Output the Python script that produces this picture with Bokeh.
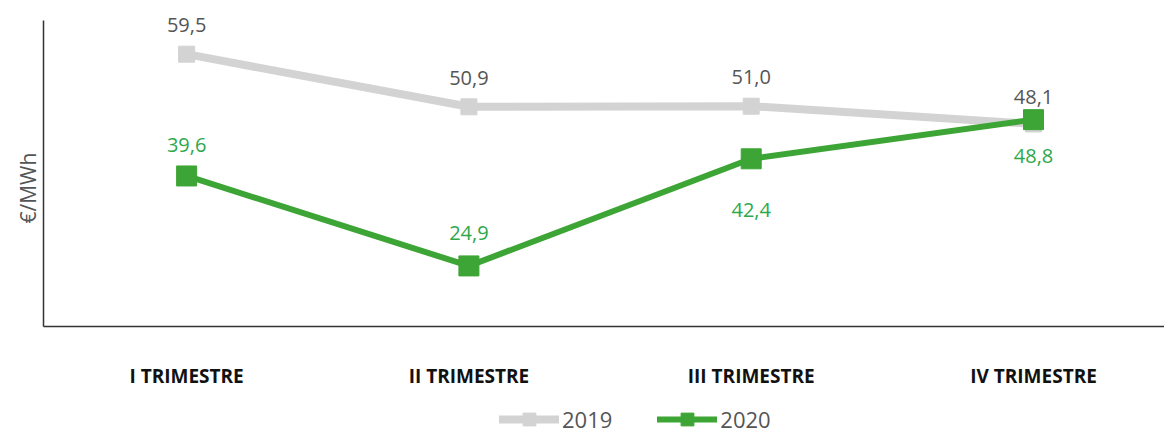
from bokeh.plotting import figure
from bokeh.layouts import column
from bokeh.models import ColumnDataSource, Range1d, FixedTicker, Legend, LegendItem, LabelSet, Title
from bokeh.core.properties import value
from bokeh.embed import file_html
from bokeh.resources import INLINE

categories = ["I TRIMESTRE", "II TRIMESTRE", "III TRIMESTRE", "IV TRIMESTRE"]
values_2019 = [59.5, 50.9, 51.0, 48.1]
values_2020 = [39.6, 24.9, 42.4, 48.8]
labels_2019 = ["59,5", "50,9", "51,0", "48,1"]
labels_2020 = ["39,6", "24,9", "42,4", "48,8"]
series_names = ["2019", "2020"]
y_title = "€/MWh"

# label placement (style): pixel offsets
offs_2019 = [29, 29, 29, 27]
offs_2020 = [31, 33, -51, -36]

GREY = "#d3d3d3"
GREEN = "#3da535"
GREY_TXT = "#555555"
GREEN_TXT = "#2ea84a"
FONT = "Open Sans"

xs = list(range(len(categories)))

p = figure(width=1164, height=403, output_backend="svg", toolbar_location=None,
           x_range=Range1d(-0.507, 3.464), y_range=Range1d(15, 68.27),
           min_border_left=43, min_border_top=0, min_border_right=0, min_border_bottom=77)
p.outline_line_color = None
p.grid.visible = False

s19 = ColumnDataSource(dict(x=xs, y=values_2019, lab=labels_2019, off=offs_2019))
s20 = ColumnDataSource(dict(x=xs, y=values_2020, lab=labels_2020, off=offs_2020))

p.line("x", "y", source=s19, line_color=GREY, line_width=8)
p.scatter("x", "y", source=s19, marker="square", size=16, fill_color=GREY, line_color=GREY)
p.line("x", "y", source=s20, line_color=GREEN, line_width=6)
p.scatter("x", "y", source=s20, marker="square", size=20, fill_color=GREEN, line_color=GREEN)

p.add_layout(LabelSet(x="x", y="y", text="lab", source=s19, y_offset="off",
                      text_align="center", text_baseline="middle",
                      text_font=value(FONT), text_font_size="20px", text_color=GREY_TXT))
p.add_layout(LabelSet(x="x", y="y", text="lab", source=s20, y_offset="off",
                      text_align="center", text_baseline="middle",
                      text_font=value(FONT), text_font_size="20px", text_color=GREEN_TXT))

xa = p.xaxis[0]
xa.ticker = FixedTicker(ticks=xs)
xa.major_label_overrides = {i: c for i, c in enumerate(categories)}
xa.major_tick_line_color = None
xa.minor_tick_line_color = None
xa.axis_line_color = "#333333"
xa.axis_line_width = 1.5
xa.major_label_standoff = 30
xa.major_label_text_font = FONT
xa.major_label_text_font_style = "bold"
xa.major_label_text_font_size = "19px"
xa.major_label_text_color = "#111111"

ya = p.yaxis[0]
ya.ticker = FixedTicker(ticks=[])
ya.bounds = (15, 65)
ya.major_tick_line_color = None
ya.minor_tick_line_color = None
ya.major_label_text_font_size = "0px"
ya.axis_line_color = "#333333"
ya.axis_line_width = 1.5

p.add_layout(Title(text=y_title, align="left", offset=103, standoff=4,
                   text_font=FONT, text_font_style="normal", text_font_size="21px",
                   text_color=GREY_TXT), "left")

# legend strip
lf = figure(width=1164, height=32, output_backend="svg", toolbar_location=None,
            x_axis_location=None, y_axis_location=None,
            x_range=Range1d(0, 1), y_range=Range1d(0, 1),
            min_border_left=0, min_border_right=0, min_border_top=0, min_border_bottom=0)
lf.outline_line_color = None
lf.grid.visible = False
g19l = lf.line(x=[-10, -9], y=[-10, -10], line_color=GREY, line_width=8, line_cap="round")
g19m = lf.scatter(x=[-10], y=[-10], marker="square", fill_color=GREY, line_color=GREY)
g20l = lf.line(x=[-10, -9], y=[-10, -10], line_color=GREEN, line_width=6, line_cap="round")
g20m = lf.scatter(x=[-10], y=[-10], marker="square", fill_color=GREEN, line_color=GREEN)

legend = Legend(items=[LegendItem(label=series_names[0], renderers=[g19l, g19m]),
                       LegendItem(label=series_names[1], renderers=[g20l, g20m])],
                orientation="horizontal", location=(456, 0),
                glyph_width=60, glyph_height=32, label_standoff=3, spacing=45,
                label_text_font=FONT, label_text_font_size="22px", label_text_color=GREY_TXT,
                border_line_color=None, background_fill_alpha=0, margin=0, padding=0)
lf.add_layout(legend, "center")

open("out.html", "w").write(file_html(column(p, lf, spacing=0), INLINE))
